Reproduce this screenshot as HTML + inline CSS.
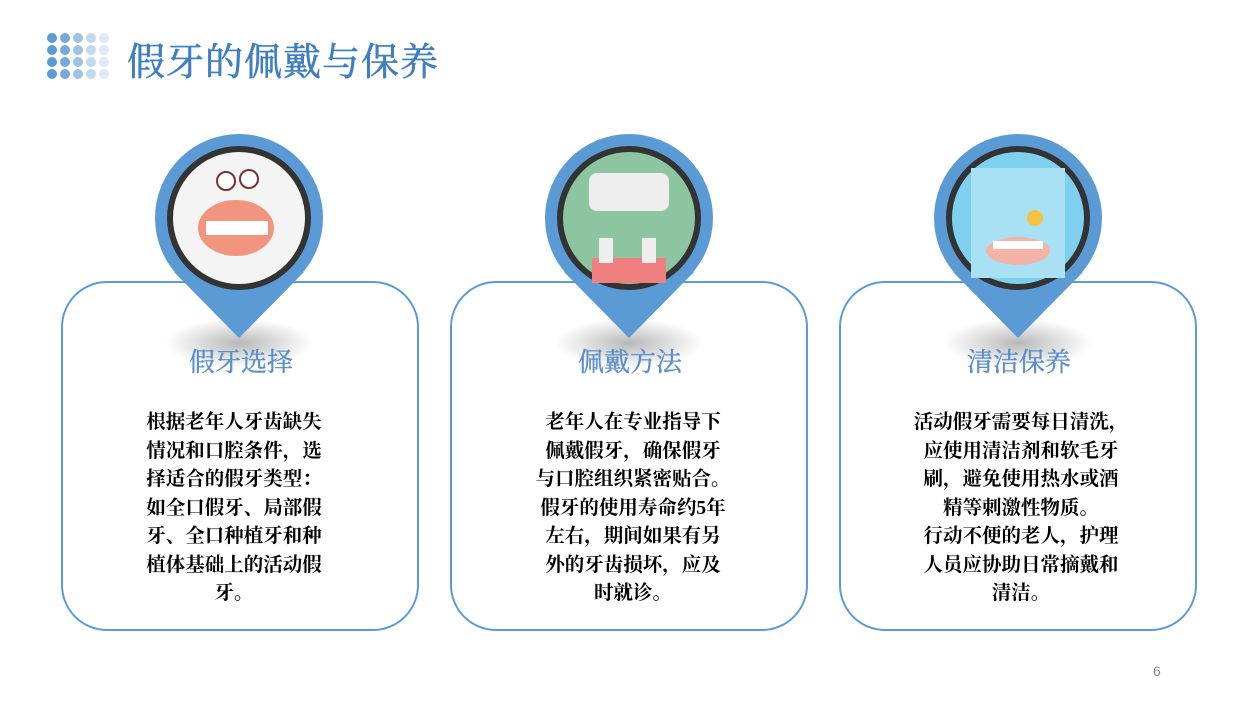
<!DOCTYPE html>
<html><head><meta charset="utf-8"><style>
body{margin:0;width:1257px;height:704px;background:#fff;position:relative;overflow:hidden;font-family:"Liberation Serif","Noto Serif CJK SC",serif}
.t{position:absolute;left:127px;top:31px;font-size:38px;color:#3f7fc0;letter-spacing:1px;white-space:nowrap;-webkit-text-stroke:0.6px #3f7fc0}
.dots{position:absolute;left:47px;top:33px}
.dots i{position:absolute;width:10px;height:10px;border-radius:50%}
.card{position:absolute;top:281px;width:354px;height:346px;border:2px solid #5b9bd5;border-radius:46px;background:#fff}
.pin{position:absolute;top:133px;width:170px;height:210px}
.h{position:absolute;top:342px;width:356px;text-align:center;font-size:26px;color:#5b8fcb;-webkit-text-stroke:0.4px #5b8fcb}
.b{position:absolute;top:409px;width:356px;text-align:center;font-size:19.5px;font-weight:bold;line-height:28.5px;color:#000}
.sh{position:absolute;top:318px;width:150px;height:50px;border-radius:50%;background:radial-gradient(ellipse at center,rgba(0,0,0,.28),rgba(0,0,0,0) 70%)}
.pg{position:absolute;left:1153px;top:663px;font-family:"Liberation Sans",sans-serif;font-size:14px;color:#888}
</style></head><body>
<div class="dots">
<i style="left:0;top:0;background:#5b9bd5"></i><i style="left:13px;top:0;background:#75a9dc"></i><i style="left:26px;top:0;background:#9cc2e8"></i><i style="left:39px;top:0;background:#c0d8f0"></i><i style="left:52px;top:0;background:#dde9f6"></i>
<i style="left:0;top:12px;background:#5b9bd5"></i><i style="left:13px;top:12px;background:#75a9dc"></i><i style="left:26px;top:12px;background:#9cc2e8"></i><i style="left:39px;top:12px;background:#c0d8f0"></i><i style="left:52px;top:12px;background:#dde9f6"></i>
<i style="left:0;top:24px;background:#5b9bd5"></i><i style="left:13px;top:24px;background:#75a9dc"></i><i style="left:26px;top:24px;background:#9cc2e8"></i><i style="left:39px;top:24px;background:#c0d8f0"></i><i style="left:52px;top:24px;background:#dde9f6"></i>
<i style="left:0;top:36px;background:#5b9bd5"></i><i style="left:13px;top:36px;background:#75a9dc"></i><i style="left:26px;top:36px;background:#9cc2e8"></i><i style="left:39px;top:36px;background:#c0d8f0"></i><i style="left:52px;top:36px;background:#dde9f6"></i>
</div>
<div class="t">假牙的佩戴与保养</div>

<div class="card" style="left:61px"></div>
<div class="card" style="left:450px"></div>
<div class="card" style="left:839px"></div>

<div class="sh" style="left:164px"></div>
<div class="sh" style="left:554px"></div>
<div class="sh" style="left:943px"></div>

<svg class="pin" style="left:154px" viewBox="0 0 170 210"><circle cx="85" cy="85" r="84" fill="#5b9bd5"/><polygon points="85,205 20,139 150,139" fill="#5b9bd5"/><circle cx="85" cy="85" r="72" fill="#333"/><circle cx="85" cy="85" r="66" fill="#f4f4f4"/><ellipse cx="82" cy="95" rx="38" ry="28" fill="#f2957e"/><rect x="52" y="88" width="62" height="14" fill="#fff"/><circle cx="72" cy="48" r="9" fill="#fff" stroke="#733" stroke-width="2"/><circle cx="95" cy="46" r="9" fill="#fff" stroke="#733" stroke-width="2"/></svg>
<svg class="pin" style="left:544px" viewBox="0 0 170 210"><circle cx="85" cy="85" r="84" fill="#5b9bd5"/><polygon points="85,205 20,139 150,139" fill="#5b9bd5"/><circle cx="85" cy="85" r="72" fill="#333"/><circle cx="85" cy="85" r="66" fill="#8cc59f"/><rect x="45" y="40" width="80" height="38" rx="8" fill="#eee"/><rect x="48" y="125" width="74" height="25" fill="#f07f7f"/><rect x="55" y="105" width="14" height="25" fill="#eee"/><rect x="98" y="105" width="14" height="25" fill="#eee"/></svg>
<svg class="pin" style="left:933px" viewBox="0 0 170 210"><circle cx="85" cy="85" r="84" fill="#5b9bd5"/><polygon points="85,205 20,139 150,139" fill="#5b9bd5"/><circle cx="85" cy="85" r="72" fill="#333"/><circle cx="85" cy="85" r="66" fill="#7fd0ee"/><rect x="38" y="35" width="94" height="110" fill="#a8e0f4"/><ellipse cx="85" cy="118" rx="32" ry="14" fill="#f4b3a8"/><rect x="60" y="108" width="50" height="8" fill="#fff"/><circle cx="102" cy="85" r="8" fill="#f4c342"/></svg>

<div class="h" style="left:63px">假牙选择</div>
<div class="h" style="left:452px">佩戴方法</div>
<div class="h" style="left:841px">清洁保养</div>

<div class="b" style="left:56px">根据老年人牙齿缺失<br>情况和口腔条件，选<br>择适合的假牙类型：<br>如全口假牙、局部假<br>牙、全口种植牙和种<br>植体基础上的活动假<br>牙。</div>
<div class="b" style="left:455px">老年人在专业指导下<br>佩戴假牙，确保假牙<br>与口腔组织紧密贴合。<br>假牙的使用寿命约5年<br>左右，期间如果有另<br>外的牙齿损坏，应及<br>时就诊。</div>
<div class="b" style="left:843px">活动假牙需要每日清洗，<br>应使用清洁剂和软毛牙<br>刷，避免使用热水或酒<br>精等刺激性物质。<br>行动不便的老人，护理<br>人员应协助日常摘戴和<br>清洁。</div>
<div class="pg">6</div>
</body></html>
